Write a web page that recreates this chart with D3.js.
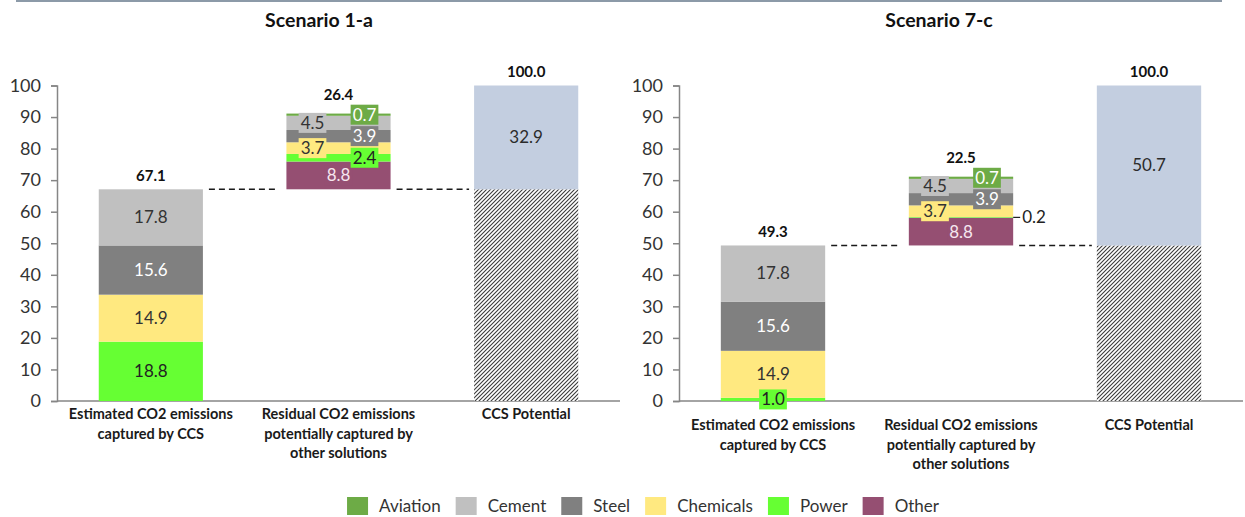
<!DOCTYPE html>
<html>
<head>
<meta charset="utf-8">
<script src="https://cdn.jsdelivr.net/npm/d3@7"></script>
<style>
  html, body { margin: 0; padding: 0; background: #fff; }
  svg { display: block; font-family: Lato, "Open Sans", sans-serif; }
</style>
</head>
<body>
<svg id="chart" width="1245" height="517"></svg>
<script>
// ---- data ----
const seriesNames = ["Aviation", "Cement", "Steel", "Chemicals", "Power", "Other"];
const seriesColors = ["#6DAB46", "#C0C0C0", "#808080", "#FFE980", "#66FF33", "#954F72"];
const labelTextColors = ["#ffffff", "#333333", "#ffffff", "#333333", "#222222", "#f6e6ef"];
// stacking order, bottom to top
const stackOrder = ["Other", "Power", "Chemicals", "Steel", "Cement", "Aviation"];
// where each residual label sits relative to the bar centre
const residualLabelSide = ["right", "left", "right", "left", "right", "center"];

const categoryLines = [
  ["Estimated CO2 emissions", "captured by CCS"],
  ["Residual CO2 emissions", "potentially captured by", "other solutions"],
  ["CCS Potential"]
];
const yTicks = [0, 10, 20, 30, 40, 50, 60, 70, 80, 90, 100];

const scenarioTitles = ["Scenario 1-a", "Scenario 7-c"];
// values in series order: Aviation, Cement, Steel, Chemicals, Power, Other
const capturedByCCS = [
  [0, 17.8, 15.6, 14.9, 18.8, 0],
  [0, 17.8, 15.6, 14.9, 1.0, 0]
];
const residualOther = [
  [0.7, 4.5, 3.9, 3.7, 2.4, 8.8],
  [0.7, 4.5, 3.9, 3.7, 0.2, 8.8]
];
const residualTotalLabels = [26.4, 22.5];
const ccsPotential = [100, 100];

// ---- layout ----
const svg = d3.select("#chart");
const panels = [
  { x0: 57, x1: 620, titleX: 319, catY: 414 },
  { x0: 679, x1: 1243, titleX: 939, catY: 425 }
];
const y = d3.scaleLinear().domain([0, 100]).range([401, 85.5]);
const segFont = 17;

// top rule
svg.append("rect").attr("x", 16).attr("y", 0).attr("width", 1206).attr("height", 2).attr("fill", "#8C9AA8");

// hatch pattern for the captured share inside the CCS potential bar
const defs = svg.append("defs");
const pat = defs.append("pattern").attr("id", "hatch").attr("patternUnits", "userSpaceOnUse")
  .attr("width", 4).attr("height", 4);
pat.append("rect").attr("width", 4).attr("height", 4).attr("fill", "#ffffff");
pat.append("path").attr("d", "M-1,1 l2,-2 M0,4 l4,-4 M3,5 l2,-2")
  .attr("stroke", "#3a3a3a").attr("stroke-width", 1.1);

const colorOf = name => seriesColors[seriesNames.indexOf(name)];

function boxedLabel(g, cx, cy, text, fill, color) {
  const t = g.append("text").attr("x", cx).attr("y", cy).attr("dy", "0.35em")
    .attr("text-anchor", "middle").attr("font-size", segFont).attr("fill", color).text(text);
  const w = t.node().getComputedTextLength();
  g.insert("rect", () => t.node())
    .attr("x", cx - w / 2 - 2).attr("y", cy - 10).attr("width", w + 4).attr("height", 20)
    .attr("fill", fill);
}

panels.forEach((p, si) => {
  const g = svg.append("g");
  const x = d3.scaleBand().domain(d3.range(3)).range([p.x0, p.x1]).paddingInner(0.445).paddingOuter(0.2225);
  const bw = x.bandwidth();
  const cx = i => x(i) + bw / 2;

  // title
  g.append("text").attr("x", p.titleX).attr("y", 20).attr("dy", "0.35em").attr("text-anchor", "middle")
    .attr("font-size", 19.5).attr("font-weight", 700).attr("fill", "#111").text(scenarioTitles[si]);

  // y axis
  const yAxis = d3.axisLeft(y).tickValues(yTicks).tickSize(6).tickPadding(10).tickFormat(d3.format("d"));
  const ax = g.append("g").attr("transform", `translate(${p.x0},0)`).call(yAxis);
  ax.select(".domain").attr("stroke", "#868686").attr("stroke-width", 1.5);
  ax.selectAll(".tick line").attr("stroke", "#868686").attr("stroke-width", 1.5);
  ax.selectAll(".tick text").attr("font-size", 18).attr("fill", "#333").attr("font-family", "Lato, sans-serif");

  // x baseline
  g.append("line").attr("x1", p.x0).attr("x2", p.x1).attr("y1", y(0)).attr("y2", y(0))
    .attr("stroke", "#868686").attr("stroke-width", 1.5);

  // stacked bars
  const captured = {};
  const residual = {};
  seriesNames.forEach((n, k) => { captured[n] = capturedByCCS[si][k]; residual[n] = residualOther[si][k]; });
  const capturedTotal = d3.sum(capturedByCCS[si]);
  const residualTotal = d3.sum(residualOther[si]);

  const stackCaptured = d3.stack().keys(stackOrder)([captured])
    .map(s => ({ key: s.key, y0: s[0][0], y1: s[0][1] }));
  const stackResidual = d3.stack().keys(stackOrder)([residual])
    .map(s => ({ key: s.key, y0: s[0][0] + capturedTotal, y1: s[0][1] + capturedTotal }));

  const segs = g.append("g");
  stackCaptured.filter(s => s.y1 > s.y0).forEach(s => {
    segs.append("rect").attr("x", x(0)).attr("width", bw).attr("y", y(s.y1)).attr("height", y(s.y0) - y(s.y1))
      .attr("fill", colorOf(s.key));
  });
  stackResidual.filter(s => s.y1 > s.y0).forEach(s => {
    segs.append("rect").attr("x", x(1)).attr("width", bw).attr("y", y(s.y1)).attr("height", y(s.y0) - y(s.y1))
      .attr("fill", colorOf(s.key));
  });

  // CCS potential: captured share hatched, remainder solid
  segs.append("rect").attr("x", x(2)).attr("width", bw).attr("y", y(capturedTotal))
    .attr("height", y(0) - y(capturedTotal)).attr("fill", "url(#hatch)");
  segs.append("rect").attr("x", x(2)).attr("width", bw).attr("y", y(ccsPotential[si]))
    .attr("height", y(capturedTotal) - y(ccsPotential[si])).attr("fill", "#C3CEE0");

  // connector lines
  const dash = g.append("g").attr("stroke", "#1a1a1a").attr("stroke-width", 1.5).attr("stroke-dasharray", "6,4");
  dash.append("line").attr("x1", x(0) + bw + 6).attr("x2", x(1) - 9)
    .attr("y1", y(capturedTotal)).attr("y2", y(capturedTotal));
  dash.append("line").attr("x1", x(1) + bw + 6).attr("x2", x(2) - 5)
    .attr("y1", y(capturedTotal)).attr("y2", y(capturedTotal));

  // segment labels
  const labels = g.append("g");
  stackCaptured.filter(s => s.y1 > s.y0).forEach(s => {
    const k = seriesNames.indexOf(s.key);
    boxedLabel(labels, cx(0), y((s.y0 + s.y1) / 2), d3.format(".1f")(s.y1 - s.y0), seriesColors[k], labelTextColors[k]);
  });
  stackResidual.filter(s => s.y1 > s.y0).forEach(s => {
    const k = seriesNames.indexOf(s.key);
    const v = s.y1 - s.y0;
    const ly = y((s.y0 + s.y1) / 2);
    if (v < 0.5) {
      // too thin: label outside the bar with a short leader
      labels.append("line").attr("x1", x(1) + bw).attr("x2", x(1) + bw + 7).attr("y1", ly).attr("y2", ly)
        .attr("stroke", "#222").attr("stroke-width", 1.2);
      labels.append("text").attr("x", x(1) + bw + 9).attr("y", ly).attr("dy", "0.35em")
        .attr("font-size", segFont).attr("fill", "#222").text(d3.format(".1f")(v));
      return;
    }
    const side = residualLabelSide[k];
    const lx = cx(1) + (side === "left" ? -26 : side === "right" ? 26 : 0);
    boxedLabel(labels, lx, ly, d3.format(".1f")(v), seriesColors[k], labelTextColors[k]);
  });
  labels.append("text").attr("x", cx(2)).attr("y", y((capturedTotal + ccsPotential[si]) / 2)).attr("dy", "0.35em")
    .attr("text-anchor", "middle").attr("font-size", segFont).attr("fill", "#2b2b2b")
    .text(d3.format(".1f")(ccsPotential[si] - capturedTotal));

  // totals above bars
  const totals = [
    { i: 0, top: capturedTotal, text: d3.format(".1f")(capturedTotal), off: 14 },
    { i: 1, top: capturedTotal + residualTotal, text: d3.format(".1f")(residualTotalLabels[si]), off: 19 },
    { i: 2, top: ccsPotential[si], text: d3.format(".1f")(ccsPotential[si]), off: 14 }
  ];
  totals.forEach(t => {
    g.append("text").attr("x", cx(t.i)).attr("y", y(t.top) - t.off).attr("dy", "0.35em").attr("text-anchor", "middle")
      .attr("font-size", 15).attr("font-weight", 700).attr("fill", "#111").text(t.text);
  });

  // category labels
  categoryLines.forEach((lines, i) => {
    const t = g.append("text").attr("text-anchor", "middle").attr("font-size", 14.5).attr("font-weight", 700).attr("fill", "#1a1a1a");
    lines.forEach((ln, j) => {
      t.append("tspan").attr("x", cx(i)).attr("y", p.catY + j * 19.5).attr("dy", "0.35em").text(ln);
    });
  });
});

// legend
const legend = svg.append("g");
let lx = 0;
seriesNames.forEach((n, k) => {
  const item = legend.append("g").attr("transform", `translate(${lx},0)`);
  item.append("rect").attr("x", 0).attr("y", 497).attr("width", 21).attr("height", 18).attr("fill", seriesColors[k]);
  const t = item.append("text").attr("x", 32).attr("y", 506).attr("dy", "0.35em").attr("font-size", 17)
    .attr("fill", "#333").text(n);
  lx += 32 + t.node().getComputedTextLength() + 15;
});
const legendWidth = lx - 15;
legend.attr("transform", `translate(${643 - legendWidth / 2},0)`);
</script>
</body>
</html>
